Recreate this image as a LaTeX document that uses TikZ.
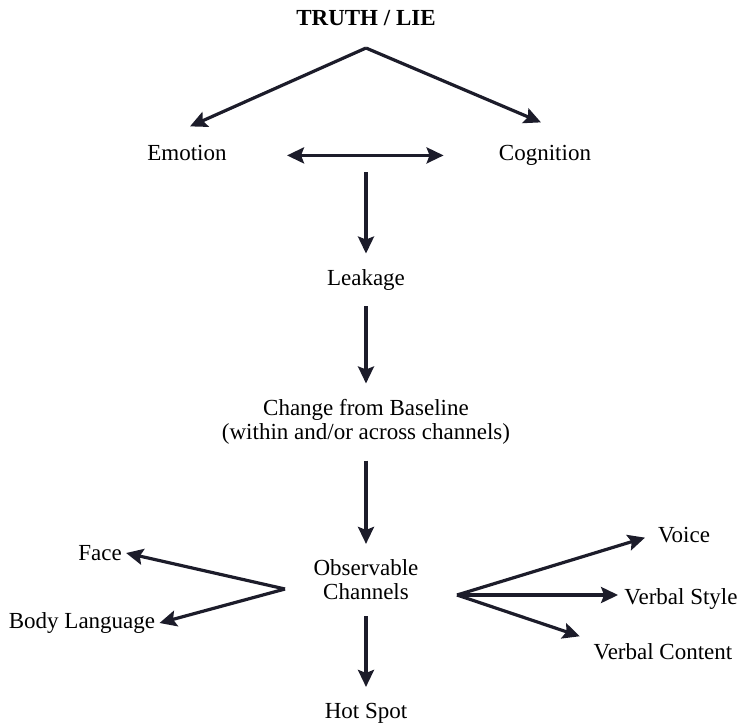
\documentclass[tikz,border=0pt]{standalone}
\usepackage{fontspec}
\setmainfont{Liberation Serif}
\usetikzlibrary{arrows.meta}
\definecolor{ink}{RGB}{28,28,42}

\begin{document}
\begin{tikzpicture}[x=0.5pt,y=-0.5pt,font=\fontsize{11.5}{12}\selectfont,
	>={Stealth[length=8.5pt,width=8pt,inset=1.5pt]},
	arr/.style={->,line width=1.6pt,draw=ink},
	spine/.style={align=center,inner sep=0pt,outer sep=8pt},
	side/.style={inner sep=2pt}]
		\useasboundingbox (0,0) rectangle (741,725);
		\node (truth) at (366,18) {\textbf{TRUTH / LIE}};
		\coordinate (apex) at (366,48);
		\node (emo) [side,anchor=base] at (187,160) {Emotion};
		\node (cog) [side,anchor=base] at (545,160) {Cognition};
		\coordinate (mid) at (366,153);
		\node (leak) [spine] at (366,280) {Leakage};
		\node (chg) [spine] at (366,422) {Change from Baseline\\(within and/or across channels)};
		\node (obs) [spine] at (366,580) {Observable\\Channels};
		\node (hot) [spine] at (366,713) {Hot Spot};
		\coordinate (hubL) at (285,589);
		\coordinate (hubR) at (457,595);
		\node (face) [side] at (100,553) {Face};
		\node (body) [side] at (82,623) {Body Language};
		\node (voice) [side] at (684,535) {Voice};
		\node (vstyle) [side] at (681,599) {Verbal Style};
		\node (vcont) [side] at (663,652) {Verbal Content};
		% top part
		\draw[arr] (apex) -- ([shift={(3,-14)}]emo.north);
		\draw[arr] (apex) -- ([shift={(-4,-18)}]cog.north);
		\draw[arr,<->,shorten <=28pt,shorten >=25.5pt] (emo.mid east) -- (emo.mid east -| cog.west);
		% down the middle
		\draw[arr,shorten <=9.5pt] (mid) -- (leak);
		\draw[arr] (leak) -- (chg);
		\draw[arr] (chg) -- (obs);
		\draw[arr] (obs) -- (hot);
		% channels
		\draw[arr] (hubL) -- (face.east);
		\draw[arr] (hubL) -- (body.east);
		\draw[arr,shorten >=4.5pt] (hubR) -- (voice.west);
		\draw[arr,shorten >=1pt] (hubR) -- (hubR -| vstyle.west);
		\draw[arr,shorten >=5pt] (hubR) -- (vcont.north west);
\end{tikzpicture}
\end{document}
